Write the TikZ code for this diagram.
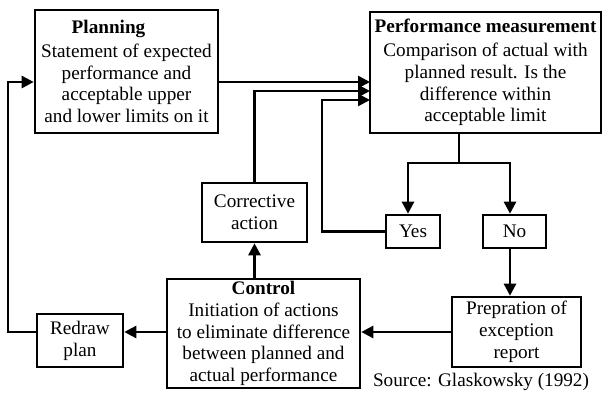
\documentclass[tikz,border=0pt]{standalone}
\usepackage{fontspec}
\setmainfont{Liberation Serif}
\usetikzlibrary{arrows.meta}

\begin{document}
\begin{tikzpicture}[x=0.5pt,y=-0.5pt,
    box/.style={draw,line width=1.3pt,align=center,inner sep=1pt,font=\fontsize{9.6}{10.9}\selectfont},
    arr/.style={line width=1.3pt,-{Triangle[length=6pt,width=6pt]}},
    ln/.style={line width=1.3pt}]
  \useasboundingbox (0,0) rectangle (604,394);
  \foreach \n/\x/\y/\w/\h/\t in {
      plan/126.5/71.5/91.5/61.5/{\textbf{Planning}\hspace*{18pt}\\[1pt]Statement of expected\\performance and\\acceptable upper\\and lower limits on it},
      perf/485.5/72.5/115.5/60.5/{\textbf{Performance measurement}\\[1pt]Comparison of actual with\\planned result. Is the\\difference within\\acceptable limit},
      corr/254.5/212.5/52.5/29.5/{Corrective\\action},
      yes/413/231.5/27/16.5/{Yes},
      no/514.5/231.5/31.5/16.5/{No},
      ctrl/263.5/333.5/96.5/54.5/{\textbf{Control}\\Initiation of actions\\to eliminate difference\\between planned and\\actual performance},
      redraw/80/340.5/43/26.5/{Redraw\\plan},
      prep/516.5/332/64.5/35/{Prepration of\\exception\\report}}
    \node[box,minimum width=\w pt,minimum height=\h pt] (\n) at (\x,\y) {\t};
  \node[font=\fontsize{9.6}{10.9}\selectfont] (src) at (481,382) {Source: Glaskowsky (1992)};
  \coordinate (in1) at (370,82);
  \coordinate (in2) at (370,91);
  \coordinate (in3) at (370,100);
  \coordinate (yb) at (322,100);
  \coordinate (fork) at (459,163);
  \coordinate (lp) at (8,82);
  \draw[arr] (plan.east |- in1) -- (in1);
  \draw[arr] (corr.north) |- (in2);
  \draw[arr] (yes.west) -| (yb) -- (in3);
  \draw[ln] (perf.south -| fork) -- (fork);
  \draw[arr] (fork) -| ([xshift=-2.5pt]yes.north);
  \draw[arr] (fork) -| ([xshift=-2.25pt]no.north);
  \draw[arr] ([xshift=-2.25pt]no.south) -- ([xshift=-2.25pt]no.south |- prep.north);
  \draw[arr] (prep.west) -- (prep.west -| ctrl.east);
  \draw[arr] (ctrl.north -| corr.south) -- (corr.south);
  \draw[arr] (ctrl.west |- prep.west) -- (redraw.east |- prep.west);
  \draw[arr] (redraw.west |- prep.west) -| (lp) -- (plan.west |- lp);
\end{tikzpicture}
\end{document}
